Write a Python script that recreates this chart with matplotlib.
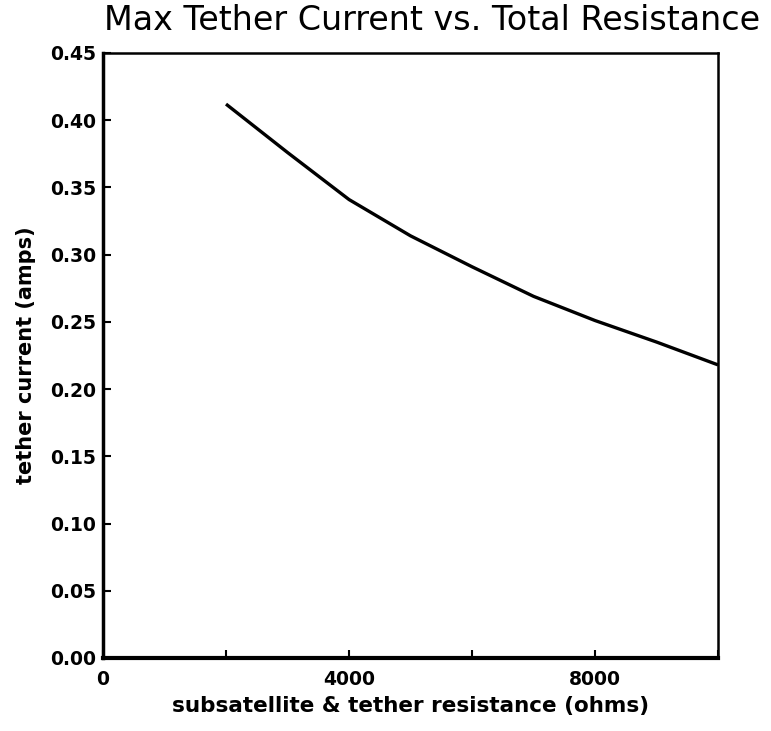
import matplotlib
matplotlib.use("Agg")
import matplotlib.pyplot as plt
import matplotlib.ticker as mticker
import numpy as np

## Data
resistance_ohms = [2000, 3000, 4000, 5000, 6000, 7000, 8000, 9000, 10000]
tether_current_amps = [0.412, 0.376, 0.341, 0.314, 0.291, 0.269, 0.251, 0.235, 0.218]

x_tick_labels = ["0", "", "4000", "", "8000", ""]
y_ticks = np.arange(0, 0.451, 0.05)

fig = plt.figure(figsize=(7.71, 7.31), dpi=100)
ax = fig.add_axes([0.1336, 0.0999, 0.7977, 0.8276])

ax.plot(resistance_ohms, tether_current_amps, color="black", linewidth=2.4,
        solid_capstyle="butt")

ax.set_xlim(0, 10000)
ax.set_ylim(0, 0.45)

ax.xaxis.set_major_locator(mticker.FixedLocator(np.arange(0, 10001, 2000)))
ax.set_xticklabels(x_tick_labels)
ax.set_yticks(y_ticks)
ax.set_yticklabels([f"{v:.2f}" for v in y_ticks])

ax.tick_params(axis="both", direction="in", length=6, width=1.5,
               labelsize=13.5, pad=5)
ax.tick_params(axis="x", pad=9)
for lab in ax.get_xticklabels() + ax.get_yticklabels():
    lab.set_fontweight("bold")

ax.spines["left"].set_linewidth(2.5)
ax.spines["bottom"].set_linewidth(3.0)
ax.spines["right"].set_linewidth(1.8)
ax.spines["top"].set_linewidth(1.8)

ax.set_xlabel("subsatellite & tether resistance (ohms)", fontsize=15.5,
              fontweight="bold", labelpad=5)
ax.set_ylabel("tether current (amps)", fontsize=15, fontweight="bold",
              labelpad=10)

fig.text(432 / 771, 1 - 21 / 731, "Max Tether Current vs. Total Resistance",
         ha="center", va="center", fontsize=24)

fig.savefig("out.png", dpi=100)
